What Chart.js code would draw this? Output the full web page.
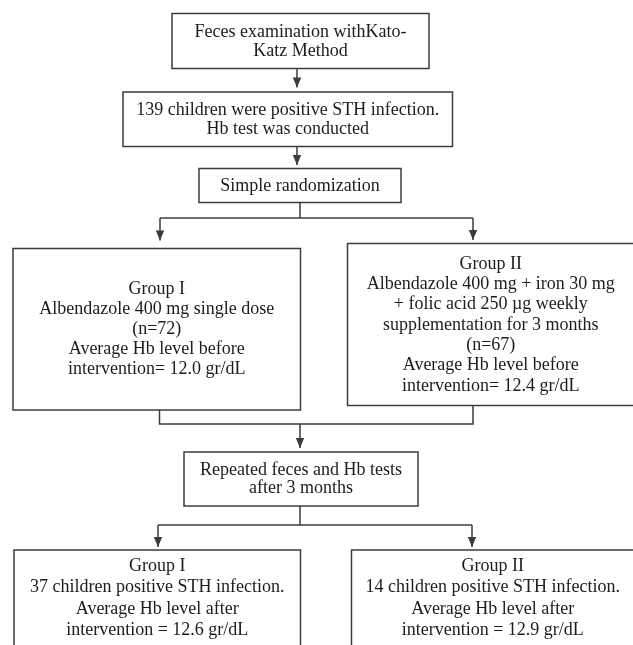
<!DOCTYPE html>
<html>
<head>
<meta charset="utf-8">
<script src="https://cdn.jsdelivr.net/npm/chart.js@4.4.1/dist/chart.umd.min.js"></script>
<style>
    html, body { margin: 0; padding: 0; background: #fff; }
    #wrap { width: 633px; height: 645px; }
</style>
</head>
<body>
<div id="wrap"><canvas id="flowChart" width="633" height="645"></canvas></div>
<script>
// text of each box, top to bottom
const boxText = [
    ["Feces examination withKato-", "Katz Method"],
    ["139 children were positive STH infection.", "Hb test was conducted"],
    ["Simple randomization"],
    ["Group I", "Albendazole 400 mg single dose", "(n=72)", "Average Hb level before", "intervention= 12.0 gr/dL"],
    ["Group II", "Albendazole 400 mg + iron 30 mg", "+ folic acid 250 \u00b5g weekly", "supplementation for 3 months", "(n=67)", "Average Hb level before", "intervention= 12.4 gr/dL"],
    ["Repeated feces and Hb tests", "after 3 months"],
    ["Group I", "37 children positive STH infection.", "Average Hb level after", "intervention = 12.6 gr/dL"],
    ["Group II", "14 children positive STH infection.", "Average Hb level after", "intervention = 12.9 gr/dL"]
];
// box edges in chart units
const boxLeft   = [172, 123, 199, 13, 347.5, 184, 14, 351.5];
const boxRight  = [429, 452.5, 401, 300.5, 634, 418, 300.5, 634];
const boxTop    = [13.5, 92, 168.5, 248.5, 243.5, 452, 550, 550];
const boxBottom = [68.5, 146.5, 202.5, 410, 405.5, 506, 646, 646];

// connectors ending in an arrow head
const arrowPaths = [
    [[297, 68.5], [297, 87.5]],
    [[297, 146.5], [297, 165]],
    [[160, 218], [160, 240.5]],
    [[473, 218], [473, 240]],
    [[300, 424], [300, 448]],
    [[158, 525], [158, 547]],
    [[472, 525], [472, 547]]
];
// plain connectors
const linePaths = [
    [[300, 202.5], [300, 218]],
    [[160, 218], [473, 218]],
    [[159.5, 410], [159.5, 424], [473, 424], [473, 405.5]],
    [[300, 506], [300, 525]],
    [[158, 525], [472, 525]]
];

const lineColor = '#3c3c3c';
const textColor = '#1c1c1c';
const lineGap = [19, 19, 19, 20, 20.3, 18.5, 21.5, 21.5];

function toPoints(path) {
    return path.map(p => ({ x: p[0], y: p[1] }));
}

const datasets = [];
linePaths.concat(arrowPaths).forEach((path, i) => {
    datasets.push({
        data: toPoints(path),
        showLine: true,
        borderColor: lineColor,
        borderWidth: 1.5,
        pointRadius: 0,
        tension: 0,
        fill: false,
        arrow: i >= linePaths.length
    });
});

const flowBoxes = {
    id: 'flowBoxes',
    afterDatasetsDraw(chart) {
        const ctx = chart.ctx;
        const xs = chart.scales.x;
        const ys = chart.scales.y;
        ctx.save();

        // arrow heads at the last point of arrow paths
        ctx.fillStyle = lineColor;
        chart.data.datasets.forEach(ds => {
            if (!ds.arrow) return;
            const last = ds.data[ds.data.length - 1];
            const px = xs.getPixelForValue(last.x);
            const py = ys.getPixelForValue(last.y);
            ctx.beginPath();
            ctx.moveTo(px, py);
            ctx.lineTo(px - 4.2, py - 10);
            ctx.lineTo(px + 4.2, py - 10);
            ctx.closePath();
            ctx.fill();
        });

        // boxes and their text
        ctx.strokeStyle = lineColor;
        ctx.lineWidth = 1.5;
        ctx.font = '18px "Liberation Serif", "Times New Roman", serif';
        ctx.textAlign = 'center';
        ctx.textBaseline = 'middle';
        boxText.forEach((lines, i) => {
            const l = xs.getPixelForValue(boxLeft[i]);
            const r = xs.getPixelForValue(boxRight[i]);
            const t = ys.getPixelForValue(boxTop[i]);
            const b = ys.getPixelForValue(boxBottom[i]);
            ctx.strokeRect(l, t, r - l, b - t);
            ctx.fillStyle = textColor;
            const cx = (l + r) / 2;
            const cy = (t + b) / 2 + 0.5;
            const start = cy - (lines.length - 1) * lineGap[i] / 2;
            lines.forEach((txt, k) => {
                ctx.fillText(txt, cx, start + k * lineGap[i]);
            });
        });
        ctx.restore();
    }
};

new Chart(document.getElementById('flowChart'), {
    type: 'scatter',
    data: { datasets: datasets },
    options: {
        responsive: false,
        animation: false,
        devicePixelRatio: 1,
        layout: { padding: 0 },
        scales: {
            x: { type: 'linear', min: 0, max: 633, display: false },
            y: { type: 'linear', min: 0, max: 645, reverse: true, display: false }
        },
        plugins: {
            legend: { display: false },
            tooltip: { enabled: false }
        }
    },
    plugins: [flowBoxes]
});
</script>
</body>
</html>
